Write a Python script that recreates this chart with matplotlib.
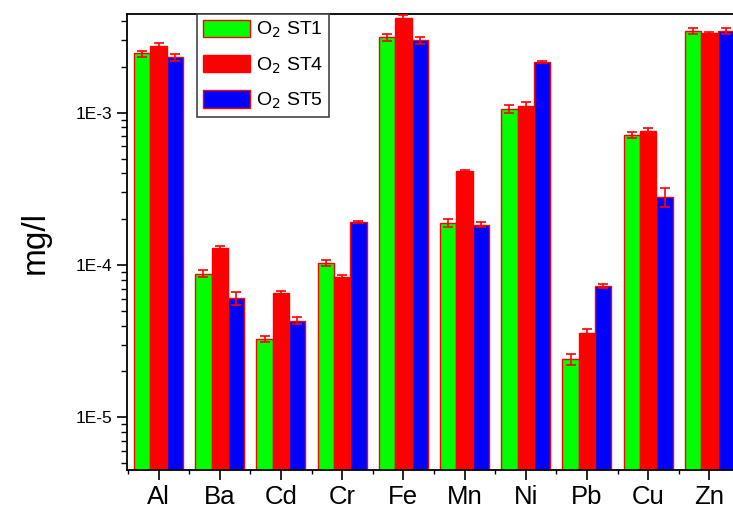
import matplotlib
matplotlib.use("Agg")
import matplotlib.pyplot as plt
import numpy as np
from matplotlib.ticker import LogLocator, FixedLocator, NullFormatter, FuncFormatter

plt.rcParams['font.family'] = ['Liberation Sans', 'DejaVu Sans']

elements = ["Al", "Ba", "Cd", "Cr", "Fe", "Mn", "Ni", "Pb", "Cu", "Zn"]
series_names = ["O$_2$ ST1", "O$_2$ ST4", "O$_2$ ST5"]

st1 = [2.45e-3, 8.77e-5, 3.27e-5, 1.03e-4, 3.13e-3, 1.88e-4, 1.06e-3, 2.41e-5, 7.17e-4, 3.45e-3]
st4 = [2.75e-3, 1.29e-4, 6.58e-5, 8.38e-5, 4.19e-3, 4.12e-4, 1.11e-3, 3.56e-5, 7.58e-4, 3.32e-3]
st5 = [2.31e-3, 6.07e-5, 4.31e-5, 1.91e-4, 2.99e-3, 1.84e-4, 2.16e-3, 7.31e-5, 2.80e-4, 3.45e-3]

err1 = [1.11e-4, 4.4e-6, 1.6e-6, 4.2e-6, 1.56e-4, 1.14e-5, 6.1e-5, 2.1e-6, 3.0e-5, 1.72e-4]
err4 = [1.25e-4, 4.5e-6, 1.3e-6, 2.5e-6, 1.71e-4, 6.2e-6, 5.7e-5, 2.5e-6, 3.1e-5, 8.5e-5]
err5 = [1.12e-4, 6.1e-6, 2.1e-6, 2.9e-6, 1.58e-4, 7.5e-6, 3.3e-5, 2.2e-6, 3.8e-5, 1.41e-4]

colors = ["#00ff00", "#ff0000", "#0000ff"]

fig = plt.figure(figsize=(7.33, 5.12), dpi=100)
ax = fig.add_axes([127.3 / 733, 42 / 512, (740 - 127.3) / 733, (470 - 14) / 512])

x = np.arange(1, len(elements) + 1)
w = 0.8 / 3
for i, (vals, errs) in enumerate(zip([st1, st4, st5], [err1, err4, err5])):
    pos = x + (i - 1) * w
    ax.bar(pos, vals, width=w, color=colors[i], edgecolor="#ff0000", linewidth=1.0,
           label=series_names[i], zorder=2)
    ax.errorbar(pos, vals, yerr=errs, fmt="none", ecolor="#ff0000", elinewidth=1.2,
                capsize=3.5, capthick=1.2, zorder=3)

ax.set_yscale("log")
ax.set_ylim(4.5e-6, 4.45e-3)
ax.set_xlim(0.49, 10.5)

ax.set_xticks(x)
ax.set_xticklabels(elements, fontsize=18.5)
ax.xaxis.set_minor_locator(FixedLocator(np.arange(0.5, 11, 1.0)))

ax.yaxis.set_major_locator(LogLocator(base=10, numticks=10))
ax.yaxis.set_minor_locator(LogLocator(base=10, subs=np.arange(2, 10), numticks=20))
ax.yaxis.set_minor_formatter(NullFormatter())
ax.yaxis.set_major_formatter(FuncFormatter(lambda v, p: "1E%d" % int(round(np.log10(v)))))
ax.tick_params(axis="y", labelsize=12.5)

ax.tick_params(which="major", direction="out", length=7, width=1.2)
ax.tick_params(which="minor", direction="out", length=4, width=1.0)
ax.tick_params(axis="x", which="minor", length=3)

for s in ["left", "bottom", "top"]:
    ax.spines[s].set_linewidth(1.3)
ax.spines["right"].set_visible(False)

ax.set_ylabel("mg/l", fontsize=24, labelpad=18)

leg = ax.legend(loc="upper left", bbox_to_anchor=((196.7 - 127.3) / (740 - 127.3), 1.0),
                borderaxespad=0, fontsize=14, fancybox=False, edgecolor="#444444",
                handlelength=2.45, handleheight=1.0, labelspacing=0.75, handletextpad=0.3,
                borderpad=0.3, framealpha=1)
leg.get_frame().set_linewidth(1.2)

fig.savefig("out.png", dpi=100)
